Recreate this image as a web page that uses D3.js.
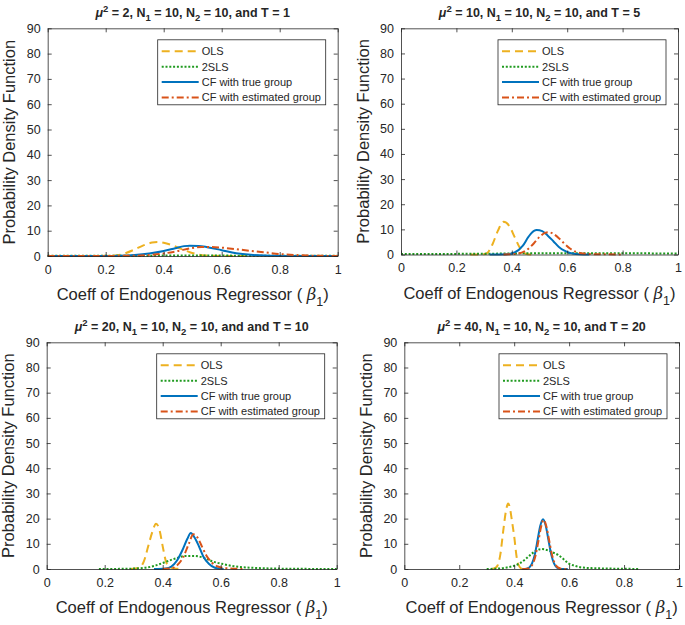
<!DOCTYPE html>
<html>
<head>
<meta charset="utf-8">
<script src="https://d3js.org/d3.v7.min.js"></script>
<style>
  body { margin: 0; background: #fff; }
  text { font-family: "Liberation Sans", Arial, sans-serif; fill: #262626; }
  .tick text { font-size: 12.5px; }
  .axis path, .axis line { stroke: #262626; stroke-width: 0.8px; }
</style>
</head>
<body>
<script>
// ---- data ----
var xTicks = [0, 0.2, 0.4, 0.6, 0.8, 1];
var yTicks = [0, 10, 20, 30, 40, 50, 60, 70, 80, 90];
var seriesNames = ["OLS", "2SLS", "CF with true group", "CF with estimated group"];
var muSq = ["2", "10", "20", "40"];
var titleTail = [", and T = 1", ", and T = 5", ", and and T = 10", ", and T = 20"];

// panel 1: mu^2 = 2, T = 1
var ols1 = [[0,0],[0.1,0],[0.2,0.05],[0.24,0.3],[0.27,1.2],[0.3,2.6],[0.33,4.2],[0.36,5.3],[0.38,5.5],[0.4,5.2],[0.43,4.2],[0.46,2.8],[0.49,1.5],[0.52,0.6],[0.55,0.15],[0.6,0.02],[0.7,0]];
var tsls1 = [[0,0.1],[0.2,0.12],[0.4,0.15],[0.6,0.15],[0.8,0.12],[1,0.1]];
var cfTrue1 = [[0,0],[0.2,0.02],[0.25,0.1],[0.3,0.4],[0.35,1.0],[0.4,2.0],[0.44,3.1],[0.47,3.9],[0.49,4.1],[0.52,4.0],[0.55,3.5],[0.6,2.3],[0.65,1.1],[0.7,0.45],[0.75,0.15],[0.8,0.04],[0.85,0],[1,0]];
var cfEst1 = [[0,0],[0.2,0.02],[0.3,0.1],[0.35,0.4],[0.4,1.0],[0.45,2.0],[0.5,3.2],[0.53,3.6],[0.56,3.6],[0.6,3.3],[0.65,2.7],[0.7,2.0],[0.75,1.4],[0.8,0.8],[0.85,0.4],[0.9,0.15],[0.95,0.05],[1,0.02]];

// panel 2: mu^2 = 10, T = 5
var ols2 = [[0.25,0],[0.29,0],[0.31,0.5],[0.33,4],[0.35,9.5],[0.37,13],[0.39,11.5],[0.41,7],[0.43,2.5],[0.45,0.3],[0.47,0]];
var tsls2 = [[0,0.2],[0.3,0.3],[0.5,0.5],[0.7,0.5],[1,0.4]];
var cfTrue2 = [[0.32,0],[0.38,0.1],[0.41,0.8],[0.44,3.5],[0.46,7],[0.48,9.4],[0.49,9.7],[0.51,9.3],[0.53,7.5],[0.55,5.3],[0.57,3],[0.59,1.5],[0.61,0.6],[0.63,0.2],[0.66,0.02],[0.68,0]];
var cfEst2 = [[0.37,0],[0.42,0.3],[0.45,1.5],[0.48,4.5],[0.5,7],[0.52,8.6],[0.53,8.9],[0.55,8.2],[0.57,6.5],[0.59,4.3],[0.61,2.4],[0.63,1.1],[0.65,0.5],[0.68,0.2],[0.72,0.1],[0.8,0]];

// panel 3: mu^2 = 20, T = 10
var ols3 = [[0.29,0],[0.32,0.5],[0.335,3],[0.35,9],[0.365,15],[0.377,18],[0.39,15],[0.4,9],[0.41,3.5],[0.42,1],[0.44,0.2],[0.47,0]];
var tsls3 = [[0.18,0],[0.25,0.05],[0.32,0.3],[0.37,1.2],[0.41,2.8],[0.45,4.4],[0.48,5.2],[0.51,5.2],[0.54,4.5],[0.575,2.9],[0.61,1.9],[0.645,1.1],[0.69,0.6],[0.75,0.3],[0.8,0.15],[0.9,0.05],[1,0.02]];
var cfTrue3 = [[0.37,0],[0.41,0.2],[0.43,1],[0.45,3.5],[0.47,8],[0.485,12],[0.497,14.3],[0.51,12.5],[0.525,9],[0.54,5],[0.56,2],[0.58,0.5],[0.6,0.1],[0.61,0]];
var cfEst3 = [[0.4,0],[0.43,0.3],[0.45,1.5],[0.47,4.5],[0.49,10],[0.506,13.8],[0.52,12.5],[0.535,9],[0.55,5.5],[0.57,2.5],[0.59,1],[0.62,0.3],[0.65,0.1],[0.68,0]];

// panel 4: mu^2 = 40, T = 20
var ols4 = [[0.32,0],[0.33,0.3],[0.34,1.5],[0.35,6],[0.36,15],[0.37,23],[0.378,26],[0.385,24],[0.39,20.5],[0.4,13],[0.41,4],[0.42,0.8],[0.43,0]];
var tsls4 = [[0.3,0],[0.34,0.15],[0.373,0.6],[0.4,1.3],[0.421,2.3],[0.44,3.8],[0.458,5.5],[0.48,7.3],[0.5,7.9],[0.52,7.5],[0.54,6.6],[0.561,5.5],[0.58,3.9],[0.597,2.3],[0.62,1.3],[0.64,0.7],[0.68,0.35],[0.737,0.2],[0.8,0.08],[0.855,0.03]];
var cfTrue4 = [[0.43,0],[0.445,0.15],[0.455,0.6],[0.465,2.2],[0.475,5.7],[0.485,11.4],[0.495,17.2],[0.505,19.8],[0.515,17.2],[0.525,11.4],[0.535,5.7],[0.545,2.2],[0.555,0.6],[0.565,0.15],[0.58,0.03],[0.595,0]];
var cfEst4 = [[0.43,0],[0.448,0.15],[0.458,0.6],[0.468,2.1],[0.478,5.5],[0.488,11],[0.498,16.8],[0.507,19.5],[0.517,17],[0.527,11.5],[0.537,6],[0.547,2.4],[0.557,0.8],[0.567,0.25],[0.58,0.05],[0.6,0]];

var panelSeries = [
  [ols1, tsls1, cfTrue1, cfEst1],
  [ols2, tsls2, cfTrue2, cfEst2],
  [ols3, tsls3, cfTrue3, cfEst3],
  [ols4, tsls4, cfTrue4, cfEst4]
];

// ---- styling / layout ----
var styles = [
  {color: "#EDB120", dash: "8,5"},
  {color: "#1f9a1f", dash: "2,1.8"},
  {color: "#0072BD", dash: null},
  {color: "#D95319", dash: "7,3,2,3"}
];
var boxes = [
  {l: 47.7, r: 337.7, t: 28.3, b: 256},
  {l: 401, r: 678, t: 28.3, b: 254.5},
  {l: 46.7, r: 336.7, t: 342.3, b: 569},
  {l: 404.3, r: 679, t: 342.3, b: 569}
];

var svg = d3.select("body").append("svg")
  .attr("width", 685).attr("height", 625);

boxes.forEach(function(bx, i) {
  var x = d3.scaleLinear().domain([0, 1]).range([bx.l, bx.r]);
  var y = d3.scaleLinear().domain([0, 90]).range([bx.b, bx.t]);
  var g = svg.append("g");

  // curves
  var line = d3.line()
    .x(function(d) { return x(d[0]); })
    .y(function(d) { return y(d[1]); })
    .curve(d3.curveMonotoneX);

  panelSeries[i].forEach(function(s, k) {
    g.append("path")
      .datum(s)
      .attr("d", line)
      .attr("fill", "none")
      .attr("stroke", styles[k].color)
      .attr("stroke-width", 2)
      .attr("stroke-dasharray", styles[k].dash);
  });

  // axes (box on, ticks inside)
  var fmt = function(d) { return d === 0 ? "0" : d === 1 ? "1" : d3.format(".1f")(d); };
  g.append("g").attr("class", "axis")
    .attr("transform", "translate(0," + bx.b + ")")
    .call(d3.axisBottom(x).tickValues(xTicks).tickFormat(fmt).tickSizeInner(-4).tickSizeOuter(0).tickPadding(9));
  g.append("g").attr("class", "axis")
    .attr("transform", "translate(0," + bx.t + ")")
    .call(d3.axisTop(x).tickValues(xTicks).tickFormat("").tickSizeInner(-4).tickSizeOuter(0));
  g.append("g").attr("class", "axis")
    .attr("transform", "translate(" + bx.l + ",0)")
    .call(d3.axisLeft(y).tickValues(yTicks).tickSizeInner(-4).tickSizeOuter(0).tickPadding(7));
  g.append("g").attr("class", "axis")
    .attr("transform", "translate(" + bx.r + ",0)")
    .call(d3.axisRight(y).tickValues(yTicks).tickFormat("").tickSizeInner(-4).tickSizeOuter(0));
  g.selectAll(".tick text").attr("fill", "#262626");

  // title
  var cx = (bx.l + bx.r) / 2;
  var t = g.append("text")
    .attr("x", cx).attr("y", bx.t - 11.5)
    .attr("text-anchor", "middle")
    .style("font-size", "12.5px").style("font-weight", "bold");
  t.append("tspan").style("font-style", "italic").text("\u03bc");
  t.append("tspan").attr("dy", -5).style("font-size", "9.5px").text("2");
  t.append("tspan").attr("dy", 5).text(" = " + muSq[i] + ", N");
  t.append("tspan").attr("dy", 4).style("font-size", "9.5px").text("1");
  t.append("tspan").attr("dy", -4).text(" = 10, N");
  t.append("tspan").attr("dy", 4).style("font-size", "9.5px").text("2");
  t.append("tspan").attr("dy", -4).text(" = 10" + titleTail[i]);

  // x label
  var xl = g.append("text")
    .attr("x", cx).attr("y", bx.b + 44)
    .attr("text-anchor", "middle")
    .style("font-size", "16.5px");
  xl.append("tspan").text("Coeff of Endogenous Regressor (  ");
  xl.append("tspan").style("font-style", "italic").style("font-family", "DejaVu Serif, serif").text("\u03b2");
  xl.append("tspan").attr("dy", 6).style("font-size", "12.5px").text("1");
  xl.append("tspan").attr("dy", -6).text(")");

  // y label
  g.append("text")
    .attr("transform", "translate(" + (bx.l - 32.5) + "," + ((bx.t + bx.b) / 2) + ") rotate(-90)")
    .attr("text-anchor", "middle")
    .style("font-size", "16.5px")
    .text("Probability Density Function");

  // legend
  var lw = 168, lh = 65;
  var lx = bx.r - 12 - lw, ly = bx.t + 11.5;
  var leg = g.append("g").attr("transform", "translate(" + lx + "," + ly + ")");
  leg.append("rect").attr("width", lw).attr("height", lh)
    .attr("fill", "#fff").attr("stroke", "#262626").attr("stroke-width", 0.8);
  seriesNames.forEach(function(name, k) {
    var yy = 11.5 + k * 15.4;
    leg.append("line")
      .attr("x1", 4).attr("x2", 41).attr("y1", yy).attr("y2", yy)
      .attr("stroke", styles[k].color).attr("stroke-width", 2)
      .attr("stroke-dasharray", styles[k].dash);
    leg.append("text")
      .attr("x", 44).attr("y", yy + 4)
      .style("font-size", "11px")
      .text(name);
  });
});
</script>
</body>
</html>
